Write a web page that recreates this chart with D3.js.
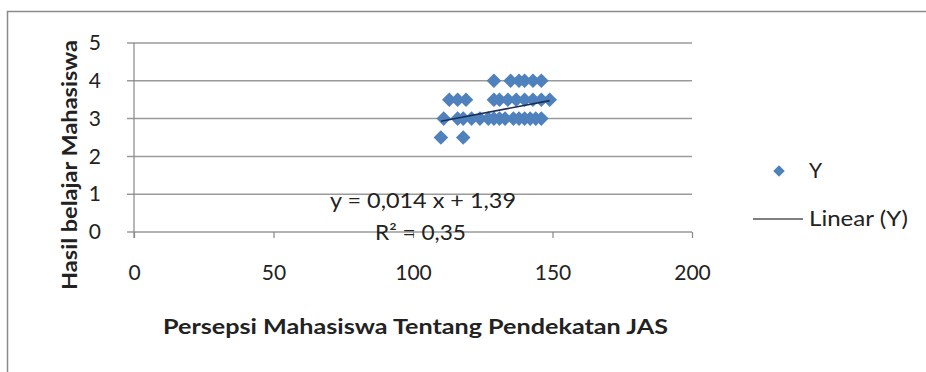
<!DOCTYPE html>
<html>
<head>
<meta charset="utf-8">
<script src="https://cdn.jsdelivr.net/npm/d3@7"></script>
<style>
  html, body { margin: 0; padding: 0; background: #fff; }
  svg { display: block; }
  text { font-family: Lato, "Open Sans", sans-serif; fill: #222; }
</style>
</head>
<body>
<svg id="chart" width="926" height="372"></svg>
<script>
// Persepsi (x) and hasil belajar (y) per mahasiswa
const xValues = [110, 118,
  111, 116, 118, 121, 124, 127, 129, 131, 133, 136, 138, 140, 142, 144, 146,
  113, 116, 119, 129, 131, 134, 137, 140, 143, 146, 149,
  129, 135, 138, 140, 143, 146];
const yValues = [2.5, 2.5,
  3, 3, 3, 3, 3, 3, 3, 3, 3, 3, 3, 3, 3, 3, 3,
  3.5, 3.5, 3.5, 3.5, 3.5, 3.5, 3.5, 3.5, 3.5, 3.5, 3.5,
  4, 4, 4, 4, 4, 4];
const xTicks = [0, 50, 100, 150, 200];
const yTicks = [0, 1, 2, 3, 4, 5];
// Linear trend: y = 0,014 x + 1,39 ; R² = 0,35
const slope = 0.014;
const intercept = 1.39;
const rSquared = 0.35;

const svg = d3.select("#chart");
const fmt = v => String(v).replace(".", ",");
const FS = "21px";

// chart frame
svg.append("path")
  .attr("d", "M7.5,372 V11.5 H926")
  .attr("fill", "none").attr("stroke", "#8a8a8a").attr("stroke-width", 1.5);

const x = d3.scaleLinear().domain([0, 200]).range([134, 692]);
const y = d3.scaleLinear().domain([0, 5]).range([232, 43]);

// horizontal gridlines
svg.append("g").selectAll("line").data(yTicks).join("line")
  .attr("x1", 127).attr("x2", x(200))
  .attr("y1", d => y(d)).attr("y2", d => y(d))
  .attr("stroke", "#9a9a9a").attr("stroke-width", 1.5);

// y axis
const yAxis = svg.append("g").attr("transform", `translate(${x(0)},0)`)
  .call(d3.axisLeft(y).tickValues(yTicks).tickFormat(d3.format("d")).tickSize(7).tickPadding(26));
yAxis.select(".domain").remove();
yAxis.selectAll(".tick line").remove();
yAxis.selectAll("text").style("font-size", FS).attr("fill", "#333");
svg.append("line").attr("x1", x(0)).attr("x2", x(0))
  .attr("y1", y(5)).attr("y2", y(0) + 6)
  .attr("stroke", "#888").attr("stroke-width", 1.2);

// x axis
const xAxis = svg.append("g").attr("transform", `translate(0,${y(0)})`)
  .call(d3.axisBottom(x).tickValues(xTicks).tickFormat(d3.format("d")).tickSize(6).tickPadding(27));
xAxis.select(".domain").remove();
xAxis.selectAll(".tick line").attr("stroke", "#888").attr("stroke-width", 1.2);
xAxis.selectAll("text").style("font-size", FS).attr("fill", "#333");

// markers
const diamond = d3.symbol().type(d3.symbolDiamond2).size(135);
svg.append("g").selectAll("path").data(xValues).join("path")
  .attr("d", diamond)
  .attr("transform", (d, i) => `translate(${x(d)},${y(yValues[i])})`)
  .attr("fill", "#4f81bd");

// trend line over the range of the data
const x0 = d3.min(xValues), x1 = d3.max(xValues);
svg.append("line")
  .attr("x1", x(x0)).attr("y1", y(slope * x0 + intercept))
  .attr("x2", x(x1)).attr("y2", y(slope * x1 + intercept))
  .attr("stroke", "#1c2f55").attr("stroke-width", 1.6);

// equation label
svg.append("text").attr("x", 330).attr("y", 208)
  .attr("textLength", 186).attr("lengthAdjust", "spacingAndGlyphs")
  .style("font-size", FS).attr("fill", "#333")
  .text(`y = ${fmt(slope)} x + ${fmt(intercept)}`);
svg.append("text").attr("x", 375).attr("y", 240)
  .attr("textLength", 91).attr("lengthAdjust", "spacingAndGlyphs")
  .style("font-size", FS).attr("fill", "#333")
  .text(`R² = ${fmt(rSquared)}`);

// axis titles
svg.append("text").attr("x", 163).attr("y", 334)
  .attr("textLength", 505).attr("lengthAdjust", "spacingAndGlyphs")
  .style("font-size", "20px").style("font-weight", "bold").attr("fill", "#222")
  .text("Persepsi Mahasiswa Tentang Pendekatan JAS");
svg.append("text").attr("transform", "translate(77,290) rotate(-90)")
  .attr("textLength", 250).attr("lengthAdjust", "spacingAndGlyphs")
  .style("font-size", "20px").style("font-weight", "bold").attr("fill", "#222")
  .text("Hasil belajar Mahasiswa");

// legend
const legend = svg.append("g");
legend.append("path").attr("d", d3.symbol().type(d3.symbolDiamond2).size(85))
  .attr("transform", "translate(779,171)").attr("fill", "#4f81bd");
legend.append("text").attr("x", 809).attr("y", 178).style("font-size", FS).text("Y");
legend.append("line").attr("x1", 753).attr("x2", 803).attr("y1", 219).attr("y2", 219)
  .attr("stroke", "#555").attr("stroke-width", 1.5);
legend.append("text").attr("x", 809).attr("y", 226)
  .attr("textLength", 99).attr("lengthAdjust", "spacingAndGlyphs")
  .style("font-size", FS).text("Linear (Y)");
</script>
</body>
</html>
